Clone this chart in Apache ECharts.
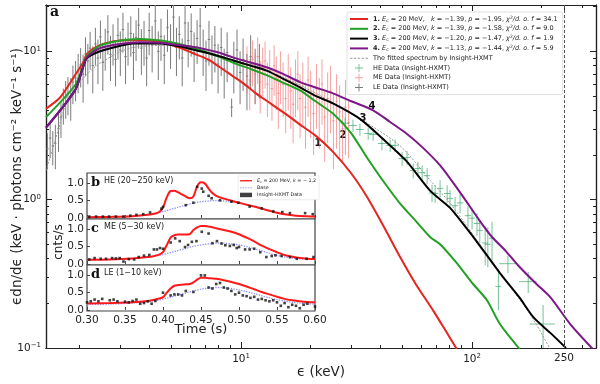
<!DOCTYPE html>
<html>
<head>
<meta charset="utf-8">
<script src="https://cdn.jsdelivr.net/npm/echarts@6/dist/echarts.min.js"></script>
<style>
  html, body { margin: 0; padding: 0; background: #fff; }
  #chart { width: 600px; height: 384px; }
</style>
</head>
<body>
<div id="chart"></div>
<script>
// ---- main spectrum: model curves (energy keV, eF flux) ----
const redE = [1.43, 1.65, 1.91, 2.07, 2.15, 2.45, 3.0, 3.6, 4.4, 5.4, 6.2, 7.2, 8.1, 9.2, 10.2, 11.6, 13.4, 16.3, 18, 21, 25, 30, 35, 41, 48.8, 57, 68, 77, 86]
const redF = [4.1, 4.9, 6.9, 8.4, 9.6, 11.0, 11.8, 11.9, 11.6, 10.6, 9.7, 8.8, 7.8, 6.8, 6.1, 5.2, 4.45, 3.6, 3.2, 2.7, 2.1, 1.5, 1.05, 0.68, 0.41, 0.27, 0.178, 0.13, 0.098]
const greenE = [1.43, 1.91, 2.07, 2.15, 2.45, 3.0, 3.65, 4.5, 5.4, 6.65, 8.0, 9.2, 11, 12.9, 15, 18, 21, 25, 30, 35, 41, 48.8, 57, 65.8, 72.7, 85, 101, 116, 132, 161]
const greenF = [3.6, 5.9, 8.0, 9.3, 10.9, 11.8, 12.1, 11.8, 11.2, 10.2, 9.2, 8.4, 7.6, 6.9, 6.2, 5.45, 4.6, 3.8, 2.8, 1.93, 1.35, 0.94, 0.72, 0.56, 0.5, 0.38, 0.27, 0.21, 0.145, 0.098]
const blackE = [1.43, 1.91, 2.07, 2.15, 2.45, 3.0, 3.4, 4.5, 5.4, 6.65, 8.0, 9.2, 11, 12.9, 15, 18, 21, 25, 32.7, 41.3, 51.8, 65.8, 80.3, 94, 104, 132, 160, 185, 220, 255]
const blackF = [3.06, 5.45, 7.8, 9.0, 10.0, 10.9, 11.3, 11.3, 10.8, 10.0, 9.3, 8.7, 8.0, 7.4, 6.6, 5.7, 5.0, 4.45, 3.5, 2.55, 1.83, 1.15, 0.88, 0.65, 0.53, 0.32, 0.22, 0.16, 0.125, 0.1]
const purpleE = [1.43, 1.91, 2.07, 2.15, 2.45, 3.0, 3.65, 4.5, 5.4, 6.65, 8.0, 9.2, 11, 12.9, 15, 18, 21, 25, 30, 37.3, 44, 51.8, 61, 72.7, 88.7, 108, 122, 140, 161, 190, 218, 266, 334]
const purpleF = [3.06, 5.45, 7.8, 9.1, 10.5, 11.2, 11.5, 11.4, 11.0, 10.5, 9.8, 9.1, 8.4, 7.8, 7.1, 6.2, 5.7, 5.2, 4.6, 4.0, 3.35, 2.8, 2.25, 1.7, 1.12, 0.72, 0.56, 0.45, 0.35, 0.27, 0.22, 0.145, 0.098]
const fitE = [1.43, 1.6, 1.77, 2.1, 2.45, 3.4, 5.44, 9.2, 18, 32.7, 48.8, 65.8, 78, 94, 132, 178, 218]
const fitF = [1.57, 2.8, 4.67, 6.7, 8.3, 10.6, 11.0, 9.1, 5.9, 3.5, 2.3, 1.35, 1.0, 0.68, 0.32, 0.17, 0.098]

// ---- Insight-HXMT data: [energy, flux, fluxErr] (LE, ME), [energy, flux, energyErr, fluxErr] (HE) ----
const leData = [
  [1.45, 2.2, 0.6], [1.49, 2.6, 0.7], [1.53, 2.3, 0.6], [1.57, 2.4, 0.8], [1.62, 3.0, 0.9],
  [1.66, 3.6, 1.0], [1.70, 4.4, 1.2], [1.74, 4.9, 1.4], [1.78, 5.2, 1.5], [1.83, 5.0, 1.6],
  [1.87, 6.2, 1.8], [1.92, 6.6, 2.0], [1.97, 7.4, 2.2], [2.02, 8.1, 2.4], [2.07, 7.0, 2.5],
  [2.12, 9.6, 2.8], [2.17, 8.6, 2.6], [2.22, 10.5, 3.0], [2.28, 8.0, 2.8], [2.34, 11.2, 3.2],
  [2.40, 9.0, 3.0], [2.46, 12.5, 3.6], [2.52, 8.4, 3.0], [2.58, 10.8, 3.4], [2.65, 13.5, 4.0],
  [2.72, 9.5, 3.2], [2.79, 11.6, 3.6], [2.86, 8.8, 3.0], [2.93, 12.8, 4.0], [3.00, 10.2, 3.4],
  [3.08, 14.0, 4.2], [3.16, 9.2, 3.2], [3.24, 11.8, 3.8], [3.33, 13.2, 4.0], [3.42, 9.8, 3.4],
  [3.51, 12.4, 3.8], [3.60, 15.0, 4.6], [3.70, 10.5, 3.6], [3.80, 12.0, 4.0], [3.90, 9.0, 3.2],
  [4.00, 13.8, 4.4], [4.12, 11.0, 3.8], [4.25, 16.0, 5.0], [4.38, 10.0, 3.6], [4.50, 12.6, 4.0],
  [4.65, 9.4, 3.4], [4.80, 14.5, 4.6], [4.95, 11.4, 3.8], [5.10, 17.0, 5.4], [5.25, 10.6, 3.8],
  [5.40, 13.0, 4.2], [5.56, 9.0, 3.2], [5.72, 15.5, 5.0], [5.90, 11.8, 4.0], [6.08, 13.6, 4.4],
  [6.26, 9.8, 3.6], [6.45, 12.2, 4.0], [6.65, 14.8, 4.8], [6.85, 10.4, 3.6], [7.05, 8.6, 3.2],
  [7.26, 12.0, 4.0], [7.48, 9.4, 3.4], [7.70, 11.0, 3.8], [7.95, 8.2, 3.0], [8.20, 10.6, 3.8],
  [8.45, 7.6, 2.8], [8.70, 9.8, 3.6], [9.10, 4.2, 0.6], [9.30, 8.4, 3.2], [9.60, 10.2, 3.8],
  [9.90, 7.2, 2.8], [10.2, 8.8, 3.4], [10.6, 6.8, 2.8], [11.0, 9.2, 3.6], [11.5, 7.4, 3.0],
  [12.0, 8.0, 3.2]
]
const meData = [
  [10.6, 8.0, 2.8], [10.9, 6.4, 2.4], [11.2, 8.8, 3.0], [11.5, 7.0, 2.6], [11.8, 9.2, 3.2],
  [12.1, 6.2, 2.4], [12.4, 7.8, 2.8], [12.7, 8.6, 3.0], [13.0, 6.0, 2.4], [13.3, 7.4, 2.8],
  [13.6, 5.6, 2.2], [13.9, 8.0, 3.0], [14.2, 6.6, 2.6], [14.5, 5.2, 2.2], [14.8, 7.2, 2.8],
  [15.2, 6.0, 2.4], [15.6, 4.8, 2.0], [16.0, 6.8, 2.8], [16.4, 5.4, 2.4], [16.8, 4.4, 2.0],
  [17.2, 6.2, 2.6], [17.6, 7.0, 3.0], [18.0, 4.8, 2.2], [18.5, 5.8, 2.6], [19.0, 4.2, 2.0],
  [19.5, 6.4, 2.8], [20.0, 5.0, 2.4], [20.6, 3.8, 1.8], [21.2, 5.6, 2.6], [21.8, 4.4, 2.2],
  [22.4, 6.0, 2.8], [23.0, 3.6, 1.8], [23.7, 4.8, 2.4], [24.4, 5.4, 2.6], [25.1, 3.4, 1.8],
  [25.9, 4.6, 2.4], [26.7, 3.9, 2.0], [27.5, 3.0, 1.2], [28.3, 4.2, 2.2], [29.2, 3.3, 1.4]
]
const heData = [
  [28.2, 3.27, 1.2, 0.3], [30.5, 3.16, 1.2, 0.3], [32.7, 2.97, 1.3, 0.28], [35.5, 2.79, 1.4, 0.26],
  [37.3, 2.75, 1.4, 0.26], [40.7, 2.39, 1.6, 0.24], [44.2, 2.32, 1.7, 0.22], [46.4, 2.32, 1.7, 0.22],
  [49.8, 1.89, 1.8, 0.2], [52.3, 1.92, 1.8, 0.2], [55.6, 1.57, 1.9, 0.18], [58.3, 1.62, 2.0, 0.18],
  [60.8, 1.52, 2.0, 0.18], [63.9, 1.45, 2.1, 0.18], [67.1, 1.11, 2.2, 0.15], [69.2, 1.10, 2.2, 0.15],
  [72.7, 1.19, 2.3, 0.16], [78.0, 1.10, 2.4, 0.15], [80.3, 1.02, 2.5, 0.14], [84.4, 0.91, 2.6, 0.13],
  [88.7, 0.95, 2.7, 0.14], [96.0, 0.78, 2.9, 0.12], [100, 0.75, 3.0, 0.12], [105, 0.69, 3.1, 0.12],
  [108, 0.62, 3.2, 0.11], [114, 0.51, 3.3, 0.15], [117, 0.50, 3.4, 0.15], [122, 0.55, 3.5, 0.16],
  [130, 0.26, 3.8, 0.08], [143, 0.37, 12, 0.05], [175, 0.28, 15, 0.045], [203, 0.145, 25, 0.05]
]

// ---- inset light curves ----
const tCurve = [0.30, 0.33, 0.36, 0.38, 0.39, 0.395, 0.40, 0.405, 0.41, 0.415, 0.42, 0.425, 0.43, 0.435, 0.44, 0.445, 0.45, 0.455, 0.46, 0.465, 0.47, 0.48, 0.49, 0.50, 0.51, 0.52, 0.53, 0.54, 0.55, 0.56, 0.57, 0.58, 0.59, 0.60]
const heBase = [0.02, 0.03, 0.05, 0.09, 0.13, 0.15, 0.18, 0.21, 0.25, 0.28, 0.31, 0.34, 0.37, 0.40, 0.43, 0.45, 0.47, 0.48, 0.49, 0.5, 0.5, 0.49, 0.47, 0.44, 0.38, 0.33, 0.27, 0.21, 0.15, 0.11, 0.08, 0.06, 0.05, 0.04]
const heModel = [0.02, 0.03, 0.05, 0.09, 0.13, 0.17, 0.3, 0.6, 0.78, 0.79, 0.74, 0.68, 0.62, 0.57, 0.62, 0.92, 1.03, 1.0, 0.85, 0.72, 0.64, 0.56, 0.5, 0.44, 0.38, 0.33, 0.27, 0.21, 0.15, 0.11, 0.08, 0.06, 0.05, 0.04]
const meBase = [0.12, 0.13, 0.16, 0.2, 0.23, 0.25, 0.27, 0.3, 0.33, 0.36, 0.39, 0.42, 0.45, 0.48, 0.51, 0.53, 0.55, 0.57, 0.58, 0.59, 0.6, 0.6, 0.58, 0.55, 0.5, 0.44, 0.38, 0.31, 0.25, 0.2, 0.17, 0.15, 0.14, 0.13]
const meModel = [0.12, 0.13, 0.16, 0.2, 0.24, 0.27, 0.34, 0.55, 0.76, 0.83, 0.85, 0.85, 0.85, 0.86, 0.98, 1.06, 1.1, 1.1, 1.08, 1.06, 1.03, 0.98, 0.93, 0.86, 0.76, 0.65, 0.53, 0.43, 0.34, 0.26, 0.21, 0.17, 0.15, 0.14]
const leBase = [0.16, 0.17, 0.2, 0.24, 0.27, 0.29, 0.31, 0.34, 0.37, 0.4, 0.43, 0.46, 0.49, 0.52, 0.55, 0.58, 0.6, 0.62, 0.63, 0.64, 0.65, 0.64, 0.62, 0.58, 0.53, 0.47, 0.41, 0.35, 0.3, 0.26, 0.22, 0.2, 0.18, 0.17]
const leModel = [0.19, 0.2, 0.22, 0.26, 0.3, 0.33, 0.37, 0.5, 0.62, 0.7, 0.72, 0.73, 0.74, 0.75, 0.8, 0.88, 0.93, 0.93, 0.92, 0.91, 0.9, 0.86, 0.81, 0.75, 0.68, 0.6, 0.52, 0.45, 0.38, 0.32, 0.28, 0.25, 0.23, 0.22]

const heT = [0.303, 0.312, 0.321, 0.329, 0.338, 0.348, 0.357, 0.365, 0.374, 0.383, 0.398, 0.40, 0.43, 0.44, 0.445, 0.451, 0.453, 0.46, 0.464, 0.475, 0.49, 0.499, 0.514, 0.53, 0.545, 0.557, 0.567, 0.587, 0.597]
const heRate = [0.04, 0.04, 0.04, 0.04, 0.04, 0.04, 0.065, 0.09, 0.11, 0.16, 0.27, 0.32, 0.37, 0.44, 0.9, 0.85, 0.76, 0.64, 0.57, 0.51, 0.47, 0.44, 0.33, 0.28, 0.19, 0.17, 0.14, 0.14, 0.11]
const meT = [0.303, 0.31, 0.318, 0.325, 0.333, 0.338, 0.343, 0.348, 0.355, 0.362, 0.368, 0.375, 0.382, 0.388, 0.392, 0.396, 0.40, 0.41, 0.416, 0.422, 0.429, 0.433, 0.438, 0.444, 0.451, 0.46, 0.465, 0.471, 0.477, 0.482, 0.488, 0.493, 0.497, 0.50, 0.508, 0.514, 0.52, 0.528, 0.536, 0.543, 0.548, 0.556, 0.567, 0.576, 0.589, 0.598]
const meRate = [0.13, 0.17, 0.15, 0.15, 0.17, 0.16, 0.17, 0.07, 0.14, 0.13, 0.2, 0.24, 0.26, 0.42, 0.42, 0.46, 0.44, 0.62, 0.74, 0.66, 0.49, 0.55, 0.64, 0.66, 0.93, 0.88, 0.6, 0.66, 0.59, 0.54, 0.52, 0.55, 0.46, 0.49, 0.42, 0.42, 0.44, 0.34, 0.2, 0.23, 0.25, 0.23, 0.2, 0.15, 0.15, 0.2]
const leT = [0.30, 0.305, 0.31, 0.315, 0.32, 0.33, 0.335, 0.34, 0.35, 0.355, 0.36, 0.365, 0.37, 0.375, 0.38, 0.385, 0.39, 0.40, 0.41, 0.415, 0.42, 0.425, 0.43, 0.44, 0.45, 0.455, 0.46, 0.465, 0.47, 0.475, 0.48, 0.485, 0.49, 0.495, 0.50, 0.505, 0.51, 0.515, 0.52, 0.525, 0.53, 0.535, 0.54, 0.545, 0.55, 0.555, 0.56, 0.565, 0.57, 0.575, 0.58, 0.585, 0.59, 0.60]
const leRate = [0.22, 0.25, 0.3, 0.25, 0.32, 0.28, 0.3, 0.25, 0.24, 0.22, 0.26, 0.3, 0.18, 0.2, 0.25, 0.18, 0.26, 0.5, 0.42, 0.45, 0.45, 0.42, 0.55, 0.52, 1.0, 1.0, 0.65, 0.62, 0.75, 0.78, 0.65, 0.62, 0.55, 0.45, 0.5, 0.42, 0.4, 0.35, 0.38, 0.3, 0.32, 0.28, 0.25, 0.28, 0.22, 0.12, 0.2, 0.08, 0.15, 0.12, 0.05, 0.15, 0.18, 0.1]

// tick labels
const xMajor = [10, 100, 250]
const xMinor = [2, 3, 4, 5, 6, 7, 8, 9, 20, 30, 40, 50, 60, 70, 80, 90, 200, 300]
const yMajor = [0.1, 1, 10]
const yMinor = [0.2, 0.3, 0.4, 0.5, 0.6, 0.7, 0.8, 0.9, 2, 3, 4, 5, 6, 7, 8, 9, 20]
const rateTicks = [0, 0.5, 1.0]

const chart = echarts.init(document.getElementById('chart'))
const FONT = 'DejaVu Sans'

const zip = (a, b) => a.map((v, i) => [v, b[i]])
const pow10 = { 0.1: '10{s|−1}', 1: '10{s|0}', 10: '10{s|1}', 100: '10{s|2}' }

function logAxis(pos, ticks, len, labels) {
  const isX = pos === 'bottom' || pos === 'top'
  return {
    type: 'log', logBase: 10, gridIndex: 0, position: pos,
    min: isX ? 1.43 : 0.1, max: isX ? 344 : 20.5,
    axisLine: { show: true, onZero: false, lineStyle: { color: '#222', width: 1.2 } },
    axisTick: { show: true, inside: true, length: len, customValues: ticks, lineStyle: { color: '#222', width: 1 } },
    axisLabel: labels ? {
      show: true, customValues: labels, fontSize: 10.5, color: '#222', fontFamily: FONT, margin: 5,
      formatter: v => pow10[v] || String(v),
      rich: { s: { fontSize: 7, verticalAlign: 'top', padding: [0, 0, 5, 0], fontFamily: FONT } }
    } : { show: false },
    splitLine: { show: false }
  }
}

function errBars(binFrac) {
  return function (params, api) {
    const x = api.value(0), y = api.value(1)
    const dx = binFrac ? x * binFrac : api.value(2)
    const dy = binFrac ? api.value(2) : api.value(3)
    const c = api.coord([x, y])
    const top = api.coord([x, y + dy])
    const bot = api.coord([x, Math.max(y - dy, 0.02)])
    const l = api.coord([x - dx, y])
    const r = api.coord([x + dx, y])
    const style = { stroke: api.visual('color'), lineWidth: 1 }
    return {
      type: 'group', children: [
        { type: 'line', shape: { x1: c[0], y1: top[1], x2: c[0], y2: bot[1] }, style },
        { type: 'line', shape: { x1: l[0], y1: c[1], x2: r[0], y2: c[1] }, style }
      ]
    }
  }
}

// inset panels
const panelTop = [173, 219, 265]
const panelH = 46
const insetGrids = panelTop.map(t => ({
  left: 87, top: t, width: 228, height: panelH, show: true, outerBoundsMode: 'none',
  backgroundColor: '#fff', borderColor: '#444', borderWidth: 1.2
}))
const insetX = panelTop.map((t, i) => ({
  type: 'value', gridIndex: i + 1, min: 0.3, max: 0.6, interval: 0.05,
  axisLine: { show: false },
  axisTick: { show: true, inside: true, length: 3, lineStyle: { color: '#444' } },
  axisLabel: i === 2 ? { show: true, fontSize: 10.5, color: '#222', fontFamily: FONT, margin: 4, formatter: v => v.toFixed(2) } : { show: false },
  splitLine: { show: false },
  name: i === 2 ? 'Time (s)' : '', nameLocation: 'middle', nameGap: 12, nameMoveOverlap: false,
  nameTextStyle: { fontSize: 13, color: '#222', fontFamily: FONT }
}))
const insetY = panelTop.map((t, i) => ({
  type: 'value', gridIndex: i + 1, min: -0.03, max: 1.3,
  axisLine: { show: false },
  axisTick: { show: true, inside: true, length: 3, customValues: rateTicks, lineStyle: { color: '#444' } },
  axisLabel: { show: true, customValues: rateTicks, fontSize: 10.5, color: '#222', fontFamily: FONT, margin: 3, formatter: v => v.toFixed(1) },
  splitLine: { show: false },
  name: i === 1 ? 'cnts/s' : '', nameLocation: 'middle', nameRotate: 90, nameGap: 22, nameMoveOverlap: false,
  nameTextStyle: { fontSize: 12, color: '#222', fontFamily: FONT }
}))

const panels = [
  [heModel, heBase, heT, heRate],
  [meModel, meBase, meT, meRate],
  [leModel, leBase, leT, leRate]
]
const insetSeries = []
panels.forEach((p, i) => {
  const ax = { xAxisIndex: 4 + i, yAxisIndex: 4 + i }
  insetSeries.push({
    name: 'Base', type: 'line', ...ax, data: zip(tCurve, p[1]), symbol: 'none', smooth: 0.3, z: 5,
    lineStyle: { color: '#8c8cf5', width: 1.3, type: 'dotted' }, itemStyle: { color: '#8c8cf5' }
  })
  insetSeries.push({
    name: 'model', type: 'line', ...ax, data: zip(tCurve, p[0]), symbol: 'none', smooth: 0.3, z: 6,
    lineStyle: { color: '#ff1a1a', width: 2 }, itemStyle: { color: '#ff1a1a' }
  })
  insetSeries.push({
    name: 'Insight-HXMT Data', type: 'scatter', ...ax, data: zip(p[2], p[3]), symbol: 'rect', symbolSize: 2.6, z: 7,
    itemStyle: { color: '#111' }
  })
})

const legendText = {
  c1: '{b|1.} {i|E}{s|c} = 20 MeV,   {i|k} = −1.39, {i|p} = −1.95, {i|χ}{u|2}{i|/d. o. f} = 34.1',
  c2: '{b|2.} {i|E}{s|c} = 200 MeV, {i|k} = −1.39, {i|p} = −1.58, {i|χ}{u|2}{i|/d. o. f} = 9.0',
  c3: '{b|3.} {i|E}{s|c} = 200 MeV, {i|k} = −1.20, {i|p} = −1.47, {i|χ}{u|2}{i|/d. o. f} = 1.9',
  c4: '{b|4.} {i|E}{s|c} = 200 MeV, {i|k} = −1.13, {i|p} = −1.44, {i|χ}{u|2}{i|/d. o. f} = 5.9',
  fit: 'The fitted spectrum by Insight-HXMT',
  HE: 'HE Data (Insight-HXMT)',
  ME: 'ME Data (Insight-HXMT)',
  LE: 'LE Data (Insight-HXMT)',
  model: '{i|E}{s|c} = 200 MeV, {i|k} = − 1,2',
  Base: 'Base',
  'Insight-HXMT Data': 'Insight-HXMT Data'
}
const plusIcon = 'path://M4.4,0h1.2v4.4h4.4v1.2h-4.4v4.4h-1.2v-4.4h-4.4v-1.2h4.4z'
const lineIcon = 'path://M0,0h20v2.2h-20z'
const dashIcon = 'path://M0,0h2.5v1h-2.5z M4,0h2.5v1h-2.5z M8,0h2.5v1h-2.5z M12,0h2.5v1h-2.5z M16,0h2.5v1h-2.5z'

function richFor(fs) {
  return {
    b: { fontWeight: 'bold', fontSize: fs, fontFamily: FONT },
    i: { fontStyle: 'italic', fontSize: fs, fontFamily: FONT },
    s: { fontSize: fs * 0.7, fontFamily: FONT, verticalAlign: 'bottom', padding: [3, 0, 0, 0] },
    u: { fontSize: fs * 0.7, fontFamily: FONT, verticalAlign: 'top', padding: [0, 0, 3, 0] }
  }
}

const option = {
  animation: false,
  backgroundColor: '#fff',
  textStyle: { fontFamily: FONT },
  grid: [{ left: 46, top: 5, right: 4, bottom: 36, show: false, outerBoundsMode: 'none' }, ...insetGrids],
  xAxis: [
    Object.assign(logAxis('bottom', xMajor, 6, xMajor), {
      name: 'ϵ (keV)', nameLocation: 'middle', nameGap: 17, nameMoveOverlap: false,
      nameTextStyle: { fontSize: 13.5, color: '#222', fontFamily: FONT }
    }),
    logAxis('bottom', xMinor, 3, null),
    logAxis('top', xMajor, 6, null),
    logAxis('top', xMinor, 3, null),
    ...insetX
  ],
  yAxis: [
    Object.assign(logAxis('left', yMajor, 6, yMajor), {
      name: 'ϵdn/dϵ (keV · photons cm⁻² keV⁻¹ s⁻¹)', nameLocation: 'middle', nameRotate: 90, nameGap: 22, nameMoveOverlap: false,
      nameTextStyle: { fontSize: 13.5, color: '#222', fontFamily: FONT }
    }),
    logAxis('left', yMinor, 3, null),
    logAxis('right', yMajor, 6, null),
    logAxis('right', yMinor, 3, null),
    ...insetY
  ],
  legend: [{
    data: [
      { name: 'c1', icon: lineIcon }, { name: 'c2', icon: lineIcon }, { name: 'c3', icon: lineIcon }, { name: 'c4', icon: lineIcon },
      { name: 'fit', icon: dashIcon }, { name: 'HE', icon: plusIcon }, { name: 'ME', icon: plusIcon }, { name: 'LE', icon: plusIcon }
    ],
    orient: 'vertical', left: 347, top: 12, itemWidth: 18, itemHeight: 8, itemGap: 1.8,
    padding: [3, 5, 3, 3], backgroundColor: '#fff', borderColor: '#d8d8d8', borderWidth: 0.8, borderRadius: 2,
    selectedMode: false,
    formatter: n => legendText[n],
    textStyle: { fontSize: 6.5, color: '#222', fontFamily: FONT, lineHeight: 8, rich: richFor(6.5) }
  }, {
    data: [{ name: 'model', icon: lineIcon }, { name: 'Base', icon: dashIcon }, { name: 'Insight-HXMT Data', icon: 'rect' }],
    orient: 'vertical', left: 238, top: 176, itemWidth: 12, itemHeight: 4.5, itemGap: 1.6,
    padding: [2, 3, 2, 2], backgroundColor: '#fff', borderColor: '#e0e0e0', borderWidth: 0.6,
    selectedMode: false,
    formatter: n => legendText[n],
    textStyle: { fontSize: 4.8, color: '#222', fontFamily: FONT, lineHeight: 5.5, rich: richFor(4.8) }
  }],
  graphic: [
    { type: 'text', left: 50, top: 5, style: { text: 'a', font: 'bold 14px "DejaVu Serif"', fill: '#111' } },
    { type: 'text', x: 318, y: 143, style: { text: '1', font: 'bold 10px "DejaVu Sans"', fill: '#111', align: 'center', verticalAlign: 'middle' } },
    { type: 'text', x: 343, y: 135, style: { text: '2', font: 'bold 10px "DejaVu Sans"', fill: '#111', align: 'center', verticalAlign: 'middle' } },
    { type: 'text', x: 363, y: 118, style: { text: '3', font: 'bold 10px "DejaVu Sans"', fill: '#111', align: 'center', verticalAlign: 'middle' } },
    { type: 'text', x: 372, y: 106, style: { text: '4', font: 'bold 10px "DejaVu Sans"', fill: '#111', align: 'center', verticalAlign: 'middle' } },
    { type: 'text', x: 91, y: 183, z: 20, style: { text: 'b', font: 'bold 13px "DejaVu Serif"', fill: '#111', verticalAlign: 'middle' } },
    { type: 'text', x: 104, y: 181, z: 20, style: { text: 'HE (20−250 keV)', font: '8px "DejaVu Sans"', fill: '#222', verticalAlign: 'middle' } },
    { type: 'text', x: 91, y: 229, z: 20, style: { text: 'c', font: 'bold 13px "DejaVu Serif"', fill: '#111', verticalAlign: 'middle' } },
    { type: 'text', x: 104, y: 227, z: 20, style: { text: 'ME (5−30 keV)', font: '8px "DejaVu Sans"', fill: '#222', verticalAlign: 'middle' } },
    { type: 'text', x: 91, y: 275, z: 20, style: { text: 'd', font: 'bold 13px "DejaVu Serif"', fill: '#111', verticalAlign: 'middle' } },
    { type: 'text', x: 104, y: 273, z: 20, style: { text: 'LE (1−10 keV)', font: '8px "DejaVu Sans"', fill: '#222', verticalAlign: 'middle' } }
  ],
  series: [
    { name: 'LE', type: 'custom', renderItem: errBars(0.012), data: leData, clip: true, z: 2, itemStyle: { color: '#7a7a7a' }, encode: { x: 0, y: 1 } },
    { name: 'ME', type: 'custom', renderItem: errBars(0.012), data: meData, clip: true, z: 2, itemStyle: { color: 'rgba(240,110,110,0.65)' }, encode: { x: 0, y: 1 } },
    { name: 'HE', type: 'custom', renderItem: errBars(0), data: heData, clip: true, z: 2, itemStyle: { color: 'rgba(60,170,110,0.7)' }, encode: { x: 0, y: 1 } },
    { name: 'fit', type: 'line', data: zip(fitE, fitF), symbol: 'none', smooth: 0.3, z: 3, lineStyle: { color: '#999', width: 1, type: [2, 1.5] }, itemStyle: { color: '#999' } },
    { name: 'c1', type: 'line', data: zip(redE, redF), symbol: 'none', smooth: 0.25, z: 4, clip: true, lineStyle: { color: '#e3261f', width: 2 }, itemStyle: { color: '#e3261f' } },
    { name: 'c2', type: 'line', data: zip(greenE, greenF), symbol: 'none', smooth: 0.25, z: 4, clip: true, lineStyle: { color: '#23a023', width: 2 }, itemStyle: { color: '#23a023' } },
    { name: 'c3', type: 'line', data: zip(blackE, blackF), symbol: 'none', smooth: 0.25, z: 4, clip: true, lineStyle: { color: '#000', width: 2 }, itemStyle: { color: '#000' } },
    {
      name: 'c4', type: 'line', data: zip(purpleE, purpleF), symbol: 'none', smooth: 0.25, z: 4, clip: true,
      lineStyle: { color: '#7d1689', width: 2 }, itemStyle: { color: '#7d1689' },
      markLine: { silent: true, symbol: 'none', label: { show: false }, lineStyle: { color: '#555', width: 1, type: [3, 2] }, data: [{ xAxis: 250 }] }
    },
    ...insetSeries
  ]
}
chart.setOption(option)
</script>
</body>
</html>
